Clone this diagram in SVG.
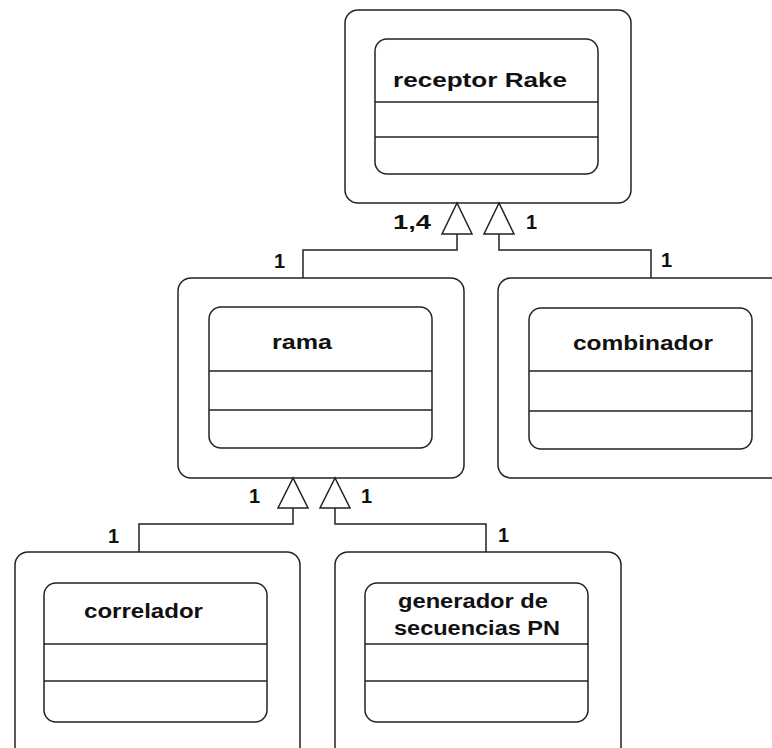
<svg xmlns="http://www.w3.org/2000/svg" width="772" height="748" viewBox="0 0 772 748">
  <style>
    .box { fill: #ffffff; stroke: #222; stroke-width: 1.5; }
    .line { fill: none; stroke: #222; stroke-width: 1.5; }
    .tri { fill: #ffffff; stroke: #222; stroke-width: 1.5; stroke-linejoin: miter; }
    .name { font-family: "Liberation Sans", Arial, sans-serif; font-weight: bold; font-size: 20px; fill: #111; }
    .mult { font-family: "Liberation Sans", Arial, sans-serif; font-weight: bold; font-size: 20px; fill: #111; }
  </style>
  <rect width="772" height="748" fill="#ffffff"/>

  <!-- receptor Rake -->
  <g id="receptor-rake">
    <rect class="box" x="345" y="10" width="286" height="193" rx="13"/>
    <rect class="box" x="375" y="39" width="223" height="135" rx="12"/>
    <line class="line" x1="375" y1="102" x2="598" y2="102"/>
    <line class="line" x1="375" y1="137" x2="598" y2="137"/>
    <text class="name" x="393" y="87" textLength="174" lengthAdjust="spacingAndGlyphs">receptor Rake</text>
  </g>

  <!-- rama -->
  <g id="rama">
    <rect class="box" x="178" y="278" width="286" height="200" rx="13"/>
    <rect class="box" x="209" y="307" width="223" height="141" rx="12"/>
    <line class="line" x1="209" y1="371" x2="432" y2="371"/>
    <line class="line" x1="209" y1="410" x2="432" y2="410"/>
    <text class="name" x="272" y="349" textLength="60" lengthAdjust="spacingAndGlyphs">rama</text>
  </g>

  <!-- combinador (runs past the right edge) -->
  <g id="combinador">
    <rect class="box" x="498" y="278" width="320" height="200" rx="13"/>
    <rect class="box" x="529" y="308" width="223" height="141" rx="12"/>
    <line class="line" x1="529" y1="371" x2="752" y2="371"/>
    <line class="line" x1="529" y1="411" x2="752" y2="411"/>
    <text class="name" x="573" y="350" textLength="140" lengthAdjust="spacingAndGlyphs">combinador</text>
  </g>

  <!-- correlador (runs past the bottom edge) -->
  <g id="correlador">
    <rect class="box" x="15" y="552" width="285" height="210" rx="13"/>
    <rect class="box" x="44" y="583" width="223" height="139" rx="12"/>
    <line class="line" x1="44" y1="644" x2="267" y2="644"/>
    <line class="line" x1="44" y1="681" x2="267" y2="681"/>
    <text class="name" x="84" y="618" textLength="119" lengthAdjust="spacingAndGlyphs">correlador</text>
  </g>

  <!-- generador de secuencias PN (runs past the bottom edge) -->
  <g id="generador-pn">
    <rect class="box" x="335" y="552" width="286" height="210" rx="13"/>
    <rect class="box" x="365" y="583" width="223" height="139" rx="12"/>
    <line class="line" x1="365" y1="644" x2="588" y2="644"/>
    <line class="line" x1="365" y1="681" x2="588" y2="681"/>
    <text class="name" x="398" y="608" textLength="150" lengthAdjust="spacingAndGlyphs">generador de</text>
    <text class="name" x="394" y="635" textLength="166" lengthAdjust="spacingAndGlyphs">secuencias PN</text>
  </g>

  <!-- aggregation connectors with hollow triangle heads -->
  <g id="connectors">
    <polyline class="line" points="457,234 457,250 303,250 303,278"/>
    <polygon class="tri" points="457,203 442,234 472,234"/>
    <polyline class="line" points="499,234 499,250 651,250 651,278"/>
    <polygon class="tri" points="499,203 484,234 514,234"/>

    <polyline class="line" points="293,508 293,524 139,524 139,552"/>
    <polygon class="tri" points="293,478 278,508 308,508"/>
    <polyline class="line" points="335,508 335,524 486,524 486,552"/>
    <polygon class="tri" points="335,478 320,508 350,508"/>

    <text class="mult" x="393" y="229" textLength="38" lengthAdjust="spacingAndGlyphs">1,4</text>
    <text class="mult" x="526" y="229">1</text>
    <text class="mult" x="274" y="268">1</text>
    <text class="mult" x="661" y="267">1</text>
    <text class="mult" x="249" y="503">1</text>
    <text class="mult" x="361" y="503">1</text>
    <text class="mult" x="108" y="543">1</text>
    <text class="mult" x="498" y="542">1</text>
  </g>
</svg>
